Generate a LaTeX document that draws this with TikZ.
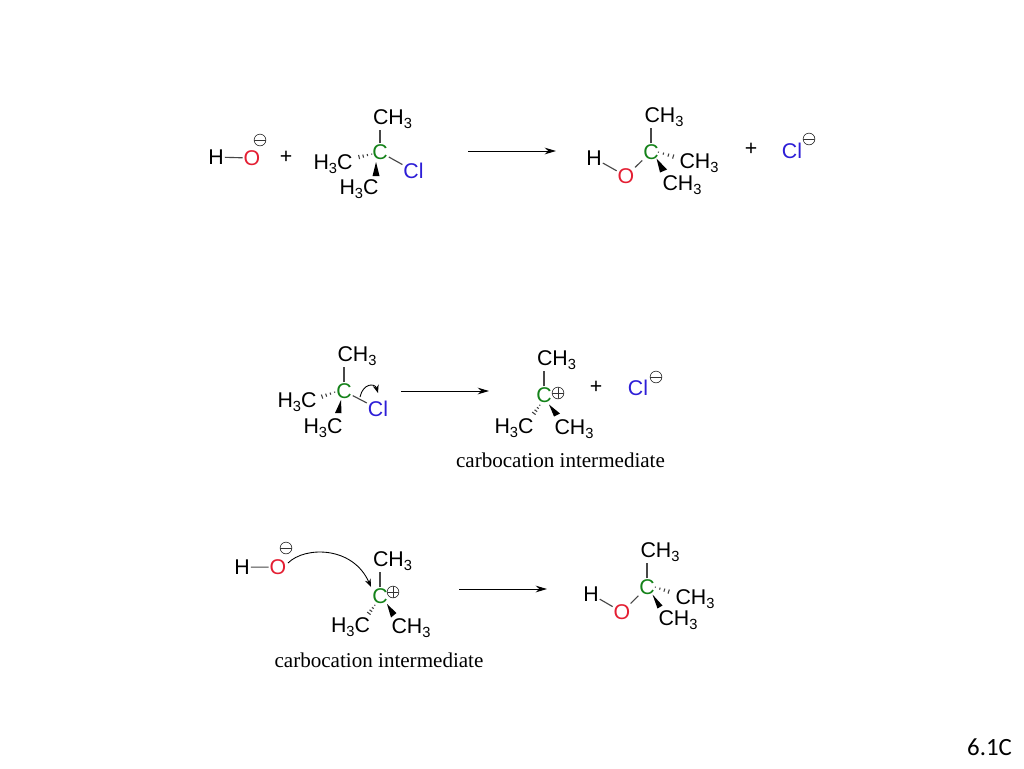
\documentclass[tikz,border=0pt]{standalone}
\usepackage{fontspec}
\setmainfont{Liberation Sans}
\newfontfamily\serifcap{Liberation Serif}
\newfontfamily\slidefont{Carlito}
\usetikzlibrary{arrows.meta,calc}
\definecolor{atomgreen}{RGB}{20,130,25}
\definecolor{atomred}{RGB}{228,30,50}
\definecolor{atomblue}{RGB}{45,30,215}
\newcommand{\tsub}{\raisebox{-0.2em}{\fontsize{11}{11}\selectfont 3}}
\newcommand{\mea}{CH\tsub}
\newcommand{\meb}{H\tsub C}
\tikzset{
  lbl/.style={anchor=base,inner sep=0.6pt,yshift=-0.3pt,font=\fontsize{16}{16}\selectfont,text=black},
  carbon/.style={lbl,text=atomgreen},
  oxy/.style={lbl,text=atomred},
  chlor/.style={lbl,text=atomblue},
  bond/.style={line width=0.85pt,draw=black!72},
  hashline/.style={line width=0.8pt,draw=black!75},
  rxn/.style={line width=0.75pt,draw=black,-{Stealth[length=8.5pt,width=5pt]}},
  curve/.style={line width=0.65pt,draw=black,-{Stealth[length=6pt,width=4.5pt]}},
  plussign/.style={inner sep=0pt,font=\fontsize{16}{16}\selectfont},
  caption/.style={anchor=base,inner sep=0pt,font=\serifcap\fontsize{15.8}{15.8}\selectfont},
  chargeC/.style={circle,draw=black!80,line width=0.5pt,minimum size=8.8pt,inner sep=0pt},
  minussign/.style={chargeC,path picture={\draw[line width=0.5pt] (path picture bounding box.west) -- (path picture bounding box.east);}},
  plusring/.style={chargeC,path picture={\draw[line width=0.5pt] (path picture bounding box.west) -- (path picture bounding box.east) (path picture bounding box.north) -- (path picture bounding box.south);}},
}
\newcommand{\wedgeb}[3]{\fill[black] #1 -- #2 -- #3 -- cycle;}
\newcommand{\hashb}[2]{%
  \foreach \t/\w in {0.02/0.4,0.27/0.8,0.52/1.2,0.76/1.6,1.0/2.0}{%
    \coordinate (hp) at ($#1!\t!#2$);
    \draw[hashline] ($(hp)!\w pt!90:#2$) -- ($(hp)!\w pt!-90:#2$);}}
\begin{document}
\begin{tikzpicture}[x=0.75pt,y=-0.75pt]
\useasboundingbox (0,0) rectangle (1024,768);
\fill[white] (0,0) rectangle (1024,768);

% Reaction overall
\node[lbl] (h1) at (216,164) {H};
\node[oxy] (o1) at (252,165) {O};
\node[minussign] (m1) at (260,140) {};
\draw[bond] (h1) -- (o1);
\node[plussign] (p1) at (286,157) {+};
\node[carbon] (c1) at (380,159) {C};
\node[lbl] (a1) at (392.5,124) {\mea};
\node[lbl] (b1) at (333,169) {\meb};
\node[lbl] (d1) at (359,194) {\meb};
\node[chlor] (l1) at (413.5,178) {Cl};
\draw[bond] (c1.north) -- (c1.north |- a1.south);
\draw[bond] (c1) -- (l1);
\hashb{(372,154)}{(355,158)}
\wedgeb{(376,162)}{(372.5,176)}{(379.5,176)}

\coordinate (r1s) at (468,151);
\coordinate (r1e) at (556,151);
\draw[rxn] (r1s) -- (r1e);

\node[carbon] (c2) at (651,159) {C};
\node[lbl] (a2) at (664,122) {\mea};
\node[lbl] (h2) at (594,165) {H};
\node[oxy] (o2) at (626,183) {O};
\node[lbl] (b2) at (699,168) {\mea};
\node[lbl] (d2) at (682,190) {\mea};
\draw[bond] (c2.north) -- (c2.north |- a2.south);
\draw[bond] (h2) -- (o2);
\draw[bond] (o2) -- (c2);
\hashb{(658,152)}{(678,158)}
\wedgeb{(656.5,158.5)}{(660,172.5)}{(667,169.5)}
\node[plussign] (p2) at (751,149) {+};
\node[chlor] (l2) at (792,158) {Cl};
\node[minussign] (m2) at (809,139) {};

% Step 1
\node[carbon] (c3) at (344,398) {C};
\node[lbl] (a3) at (357,361) {\mea};
\node[lbl] (b3) at (297,407) {\meb};
\node[lbl] (d3) at (323,433) {\meb};
\node[chlor] (l3) at (378,416) {Cl};
\draw[bond] (c3.north) -- (c3.north |- a3.south);
\draw[bond] (c3) -- (l3);
\hashb{(335,392)}{(318,398)}
\wedgeb{(341,400)}{(335,413)}{(341.5,413)}
\coordinate (k3s) at (360,397);
\coordinate (k3e) at (378,393);
\draw[curve] (k3s) .. controls (363,383) and (375,383) .. (k3e);

\coordinate (r2s) at (401,391);
\coordinate (r2e) at (489,391);
\draw[rxn] (r2s) -- (r2e);

\node[carbon] (c4) at (544,402) {C};
\node[plusring] (q4) at (558,393) {};
\node[lbl] (a4) at (556.5,365) {\mea};
\node[lbl] (b4) at (514,433) {\meb};
\node[lbl] (d4) at (574,434) {\mea};
\draw[bond] (c4.north) -- (c4.north |- a4.south);
\hashb{(540,405)}{(532,416)}
\wedgeb{(549,404.5)}{(554,416.5)}{(560,413.5)}
\node[plussign] (p4) at (596,387) {+};
\node[chlor] (l4) at (638,395) {Cl};
\node[minussign] (m4) at (656,377) {};
\node[caption] (t4) at (560.5,467) {carbocation intermediate};

% Step 2
\node[lbl] (h5) at (242,574) {H};
\node[oxy] (o5) at (278,574) {O};
\node[minussign] (m5) at (286,548) {};
\draw[bond] (h5) -- (o5);
\node[carbon] (c5) at (380,603) {C};
\node[plusring] (q5) at (393,592) {};
\node[lbl] (a5) at (392.5,566) {\mea};
\node[lbl] (b5) at (350.5,632) {\meb};
\node[lbl] (d5) at (411,633) {\mea};
\draw[bond] (c5.north) -- (c5.north |- a5.south);
\hashb{(375,605)}{(367,616)}
\wedgeb{(387,604)}{(391,617.5)}{(396.5,613)}
\coordinate (k5s) at (288,563);
\coordinate (k5e) at (371,587);
\draw[curve] (k5s) .. controls (305,546) and (353,546) .. (k5e);
\node[caption] (t5) at (379,667) {carbocation intermediate};

\coordinate (r3s) at (459,589);
\coordinate (r3e) at (547,589);
\draw[rxn] (r3s) -- (r3e);

\node[carbon] (c6) at (647,594) {C};
\node[lbl] (a6) at (660,557) {\mea};
\node[lbl] (h6) at (591,601) {H};
\node[oxy] (o6) at (622,619) {O};
\node[lbl] (b6) at (695,604) {\mea};
\node[lbl] (d6) at (678,625) {\mea};
\draw[bond] (c6.north) -- (c6.north |- a6.south);
\draw[bond] (h6) -- (o6);
\draw[bond] (o6) -- (c6);
\hashb{(655,587)}{(673,593)}
\wedgeb{(652.5,594.5)}{(657.5,608.5)}{(662.5,605.5)}

\node[anchor=base,inner sep=0pt,font=\slidefont\fontsize{18.6}{18.6}\selectfont] (tag) at (989.5,755) {6.1C};
\end{tikzpicture}
\end{document}
